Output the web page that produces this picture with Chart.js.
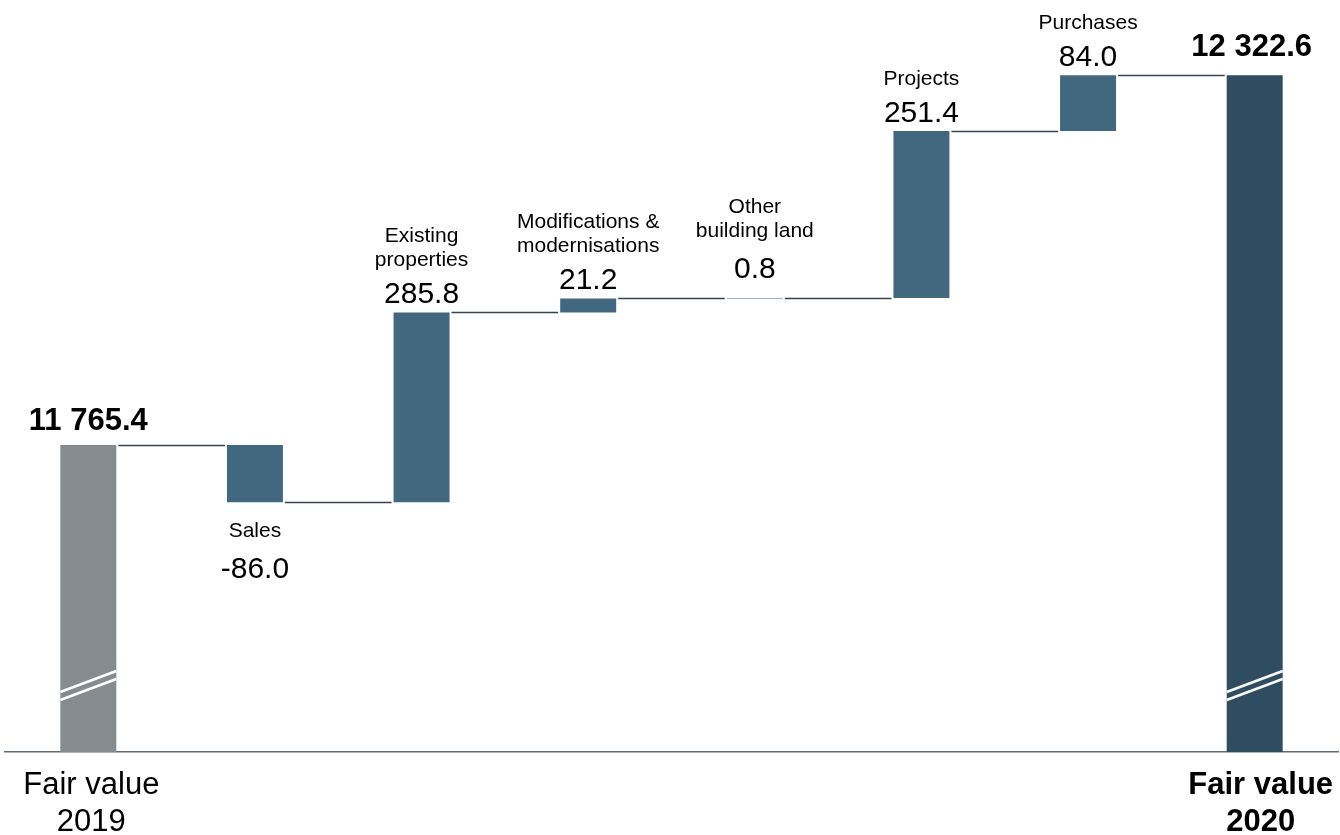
<!DOCTYPE html>
<html>
<head>
<meta charset="utf-8">
<script src="https://cdn.jsdelivr.net/npm/chart.js@4/dist/chart.umd.min.js"></script>
<style>
  html, body { margin: 0; padding: 0; background: #fff; }
  #wrap { width: 1340px; height: 835px; position: relative; }
</style>
</head>
<body>
<div id="wrap"><canvas id="chart"></canvas></div>
<script>
const CATEGORIES = ['Fair value 2019', 'Sales', 'Existing properties', 'Modifications & modernisations', 'Other building land', 'Projects', 'Purchases', 'Fair value 2020']
const NAME_LINES = [[], ['Sales'], ['Existing', 'properties'], ['Modifications &', 'modernisations'], ['Other', 'building land'], ['Projects'], ['Purchases'], []]
const AXIS_LINES = [['Fair value', '2019'], [], [], [], [], [], [], ['Fair value', '2020']]
const OPENING = 11765.4
const CHANGES = [-86.0, 285.8, 21.2, 0.8, 251.4, 84.0]
const CLOSING = 12322.6
const VALUE_LABELS = ['11 765.4', '-86.0', '285.8', '21.2', '0.8', '251.4', '84.0', '12 322.6']
// broken axis: the totals start from this floor, not from zero
const Y_MIN = 11303
const Y_MAX = 12436

const GREY = '#868b8f'
const STEP = '#426880'
const DARK = '#2f4d60'
const FONT = '"Liberation Sans", Arial, sans-serif'

// floating bars [start, end]
let run = OPENING
const bars = [[Y_MIN, OPENING]]
CHANGES.forEach(d => { bars.push([run, run + d]); run += d })
bars.push([Y_MIN, CLOSING])

const colors = CATEGORIES.map((_, i) => i === 0 ? GREY : (i === CATEGORIES.length - 1 ? DARK : STEP))

const waterfallDecor = {
  id: 'waterfallDecor',
  afterDatasetsDraw(chart) {
    const ctx = chart.ctx
    const y = chart.scales.y
    const els = chart.getDatasetMeta(0).data
    const last = els.length - 1
    ctx.save()

    // connectors between bars
    ctx.strokeStyle = '#34434f'
    ctx.lineWidth = 1.5
    for (let i = 0; i < last; i++) {
      const a = els[i], b = els[i + 1]
      const py = Math.round(y.getPixelForValue(bars[i][1])) + 0.5
      ctx.beginPath()
      ctx.moveTo(a.x + a.width / 2 + 2, py)
      ctx.lineTo(b.x - b.width / 2 - 2, py)
      ctx.stroke()
    }

    // break marks on the totals
    ctx.strokeStyle = '#fff'
    ctx.lineWidth = 2.5
    ;[0, last].forEach(i => {
      const el = els[i]
      const l = el.x - el.width / 2, r = el.x + el.width / 2
      const base = Math.max(el.y, el.base)
      ;[0, 8].forEach(off => {
        ctx.beginPath()
        ctx.moveTo(l, base - 60 + off)
        ctx.lineTo(r, base - 81 + off)
        ctx.stroke()
      })
    })

    // labels
    ctx.fillStyle = '#000'
    ctx.textAlign = 'center'
    ctx.textBaseline = 'alphabetic'
    els.forEach((el, i) => {
      const top = Math.min(el.y, el.base)
      const bottom = Math.max(el.y, el.base)
      if (i === 0 || i === last) {
        ctx.font = 'bold 31px ' + FONT
        ctx.fillText(VALUE_LABELS[i], el.x + (i === 0 ? 0 : -3), top - (i === 0 ? 15 : 19))
        return
      }
      const n = NAME_LINES[i].length
      if (CHANGES[i - 1] < 0) {
        ctx.font = '21px ' + FONT
        NAME_LINES[i].forEach((t, k) => ctx.fillText(t, el.x, bottom + 35 + k * 23))
        ctx.font = '30px ' + FONT
        ctx.fillText(VALUE_LABELS[i], el.x, bottom + 35 + (n - 1) * 23 + 41)
      } else {
        const tiny = bottom - top < 4
        const vy = top - (tiny ? 20 : 9)
        ctx.font = '30px ' + FONT
        ctx.fillText(VALUE_LABELS[i], el.x, vy)
        ctx.font = '21px ' + FONT
        NAME_LINES[i].forEach((t, k) => ctx.fillText(t, el.x, vy - (tiny ? 41 : 37) - (n - 1 - k) * 24))
      }
    })

    // category labels under the axis
    const axisY = chart.chartArea.bottom
    els.forEach((el, i) => {
      ctx.font = (i === last ? 'bold ' : '') + '31px ' + FONT
      AXIS_LINES[i].forEach((t, k) => ctx.fillText(t, el.x + (i === last ? 6 : 3), axisY + 42 + k * 37))
    })
    ctx.restore()
  }
}

new Chart(document.getElementById('chart'), {
  type: 'bar',
  data: {
    labels: CATEGORIES,
    datasets: [{
      data: bars,
      backgroundColor: colors,
      borderWidth: 0,
      barPercentage: 1,
      categoryPercentage: 0.336,
    }],
  },
  options: {
    responsive: true,
    maintainAspectRatio: false,
    animation: false,
    layout: { padding: { left: 5, right: 2, top: 0, bottom: 83 } },
    plugins: { legend: { display: false }, tooltip: { enabled: false } },
    scales: {
      x: {
        ticks: { display: false },
        grid: { display: false, drawTicks: false },
        border: { display: true, color: '#5f6c75', width: 1.5 },
      },
      y: { display: false, min: Y_MIN, max: Y_MAX },
    },
  },
  plugins: [waterfallDecor],
})
</script>
</body>
</html>
